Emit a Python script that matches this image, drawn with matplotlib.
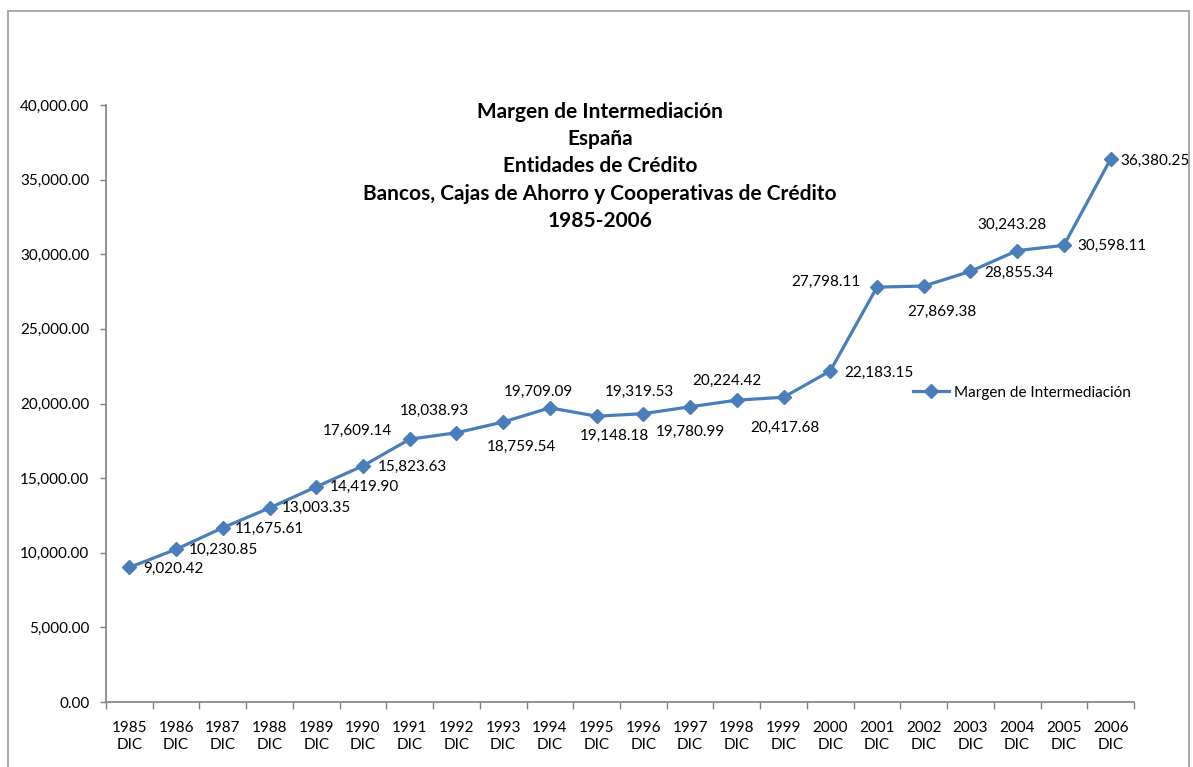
import matplotlib
matplotlib.use("Agg")
import matplotlib.pyplot as plt
from matplotlib.patches import Rectangle
from matplotlib.ticker import FuncFormatter, FixedLocator

years = ["1985", "1986", "1987", "1988", "1989", "1990", "1991", "1992", "1993", "1994", "1995",
         "1996", "1997", "1998", "1999", "2000", "2001", "2002", "2003", "2004", "2005", "2006"]
month = "DIC"
values = [9020.42, 10230.85, 11675.61, 13003.35, 14419.90, 15823.63, 17609.14, 18038.93,
          18759.54, 19709.09, 19148.18, 19319.53, 19780.99, 20224.42, 20417.68, 22183.15,
          27798.11, 27869.38, 28855.34, 30243.28, 30598.11, 36380.25]
series_name = "Margen de Intermediación"
title_lines = ["Margen de Intermediación", "España", "Entidades de Crédito",
               "Bancos, Cajas de Ahorro y Cooperativas de Crédito", "1985-2006"]
y_ticks = [0, 5000, 10000, 15000, 20000, 25000, 30000, 35000, 40000]

# label offsets (pixels) relative to each point -- styling only
label_offsets = [(44, -2), (47, -1), (47, -1), (47, 0), (48, 0), (49, -1), (-52, 8), (-22, 22),
                 (18, -25), (-12, 16), (18, -20), (-4, 22), (0, -25), (-10, 19), (1, -31),
                 (49, -2), (-51, 5), (18, -26), (48, -2), (-5, 26), (48, -1), (44, -2)]

plt.rcParams['font.family'] = ['Lato', 'DejaVu Sans']
W, H = 1193, 767
fig = plt.figure(figsize=(W / 100, H / 100), dpi=100)
fig.patch.set_facecolor("white")

# chart area border
fig.patches.append(Rectangle((8 / W, -0.05), (1189 - 8) / W, 1 - 11 / H + 0.05,
                             transform=fig.transFigure, fill=False,
                             edgecolor="#9a9a9a", linewidth=1.2))

ax = fig.add_axes([106 / W, 1 - 702 / H, (1134 - 106) / W, (702 - 105) / H])
x = list(range(len(values)))
color = "#4A7EBB"
ax.plot(x, values, color=color, linewidth=2.3, marker="D", markersize=7,
        markeredgecolor=color, markerfacecolor=color, label=series_name, zorder=3)

for xi, v, (dx, dy) in zip(x, values, label_offsets):
    ax.annotate(f"{v:,.2f}", (xi, v), xytext=(dx, dy), textcoords="offset pixels",
                ha="center", va="center", fontsize=11, color="#000000")

ax.set_xlim(-0.5, len(values) - 0.5)
ax.set_ylim(0, 40000)
ax.yaxis.set_major_locator(FixedLocator(y_ticks))
ax.yaxis.set_major_formatter(FuncFormatter(lambda v, p: f"{v:,.2f}"))

ax.set_xticks([i - 0.5 for i in range(len(values) + 1)])
ax.set_xticklabels([])
ax.set_xticks(x, minor=True)
ax.set_xticklabels([f"{y}\n{month}" for y in years], minor=True, fontsize=11,
                   linespacing=1.2)
ax.tick_params(axis="x", which="minor", length=0, pad=14)
ax.tick_params(axis="x", which="major", length=5, color="#808080", width=1)
ax.tick_params(axis="y", length=4, color="#808080", width=1, labelsize=11, pad=8)

for s in ["top", "right"]:
    ax.spines[s].set_visible(False)
for s in ["left", "bottom"]:
    ax.spines[s].set_color("#808080")
    ax.spines[s].set_linewidth(1.2)

# title
title_y = [112, 139, 166, 194, 221]
for t, ty in zip(title_lines, title_y):
    fig.text(600 / W, 1 - ty / H, t, ha="center", va="center", fontsize=15,
             fontweight="bold")

leg = ax.legend(loc="upper left", bbox_to_anchor=(905 / W, 1 - 378 / H),
                bbox_transform=fig.transFigure, frameon=False, fontsize=11,
                handlelength=2.4, handletextpad=0.3, borderpad=0)

fig.savefig("out.png", dpi=100, facecolor="white")
